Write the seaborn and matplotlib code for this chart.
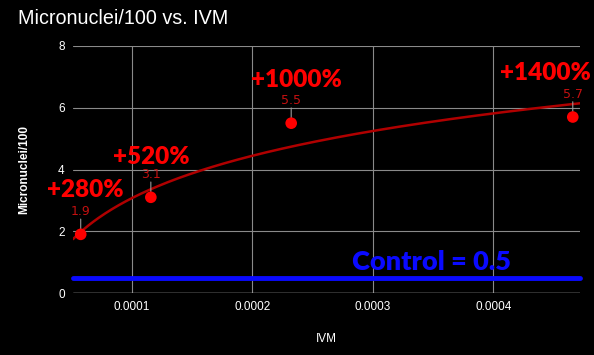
import numpy as np
import pandas as pd
import seaborn as sns
import matplotlib
matplotlib.use("Agg")
import matplotlib.pyplot as plt

ivm = [0.0000576, 0.0001158, 0.0002323, 0.000466]
micronuclei = [1.9, 3.1, 5.5, 5.7]
value_labels = ["1.9", "3.1", "5.5", "5.7"]
pct_labels = ["+280%", "+520%", "+1000%", "+1400%"]
control = 0.5
x_ticks = [0.0001, 0.0002, 0.0003, 0.0004]
x_tick_labels = ["0.0001", "0.0002", "0.0003", "0.0004"]
y_ticks = [0, 2, 4, 6, 8]

df = pd.DataFrame({"IVM": ivm, "Micronuclei/100": micronuclei})

sns.set_theme(style="dark")
plt.rcParams["font.family"] = ["Liberation Sans", "DejaVu Sans"]

fig = plt.figure(figsize=(5.94, 3.55), dpi=100, facecolor="black")
ax = fig.add_axes([73/594, 1-293/355, (580-73)/594, (293-46)/355])
ax.set_facecolor("black")

xmin, xmax = 5.12e-5, 4.72e-4
ax.set_xlim(xmin, xmax)
ax.set_ylim(0, 8)

ax.set_xticks(x_ticks)
ax.set_xticklabels(x_tick_labels)
ax.set_yticks(y_ticks)
ax.grid(True, color="#8a8a8a", linewidth=0.8)
ax.tick_params(colors="white", labelsize=8.5, length=0, pad=6)
for s in ax.spines.values():
    s.set_visible(False)
ax.axhline(0, color="#cfcfcf", linewidth=1.0, zorder=1)

# logarithmic trendline
a, b = np.polyfit(np.log(df["IVM"]), df["Micronuclei/100"], 1)
xs = np.linspace(xmin, xmax, 300)
trend = pd.DataFrame({"IVM": xs, "trend": a*np.log(xs) + b})
sns.lineplot(data=trend, x="IVM", y="trend", ax=ax, color="#b00000", linewidth=1.8, zorder=3)

# control line
ax.plot([0, 1.0], [control, control], transform=ax.get_yaxis_transform(),
        color="#0a0aff", linewidth=3.5, zorder=3, clip_on=False)

sns.scatterplot(data=df, x="IVM", y="Micronuclei/100", ax=ax, color="#ff0000",
                s=70, edgecolor="none", zorder=5)

# data labels with leaders
for xv, yv, lab in zip(ivm, micronuclei, value_labels):
    ax.annotate("", xy=(xv, yv), xytext=(0, 11), textcoords="offset points",
                xycoords="data",
                arrowprops=dict(arrowstyle="-", color="#9a9a9a", lw=0.8,
                                shrinkA=0, shrinkB=4), zorder=4)
    ax.annotate(lab, xy=(xv, yv), xytext=(0, 11.5), textcoords="offset points",
                ha="center", va="bottom", color="#c41010", fontsize=9,
                family=["DejaVu Sans"])

# percent annotations (pixel offsets relative to points)
pct_offsets = [(3, 24), (0, 21), (4, 23), (-20, 24)]
for xv, yv, lab, (dx, dy) in zip(ivm, micronuclei, pct_labels, pct_offsets):
    ax.annotate(lab, xy=(xv, yv), xytext=(dx, dy), textcoords="offset points",
                ha="center", va="bottom", color="#ff0000", fontsize=17.5,
                fontweight="heavy", family=["Lato", "DejaVu Sans"])

ax.text(0.708, control + 0.1, "Control = 0.5", transform=ax.get_yaxis_transform(),
        ha="center", va="bottom", color="#0a0aff", fontsize=19.5,
        fontweight="heavy", family=["Lato", "DejaVu Sans"])

ax.set_xlabel("IVM", color="white", fontsize=8.5, labelpad=14)
ax.set_ylabel("Micronuclei/100", color="white", fontsize=8.5, labelpad=20,
              fontweight="bold")

fig.text(18/594, 1-18/355, "Micronuclei/100 vs. IVM", color="white", fontsize=14.2,
         ha="left", va="center")

fig.savefig("out.png", dpi=100, facecolor="black")
